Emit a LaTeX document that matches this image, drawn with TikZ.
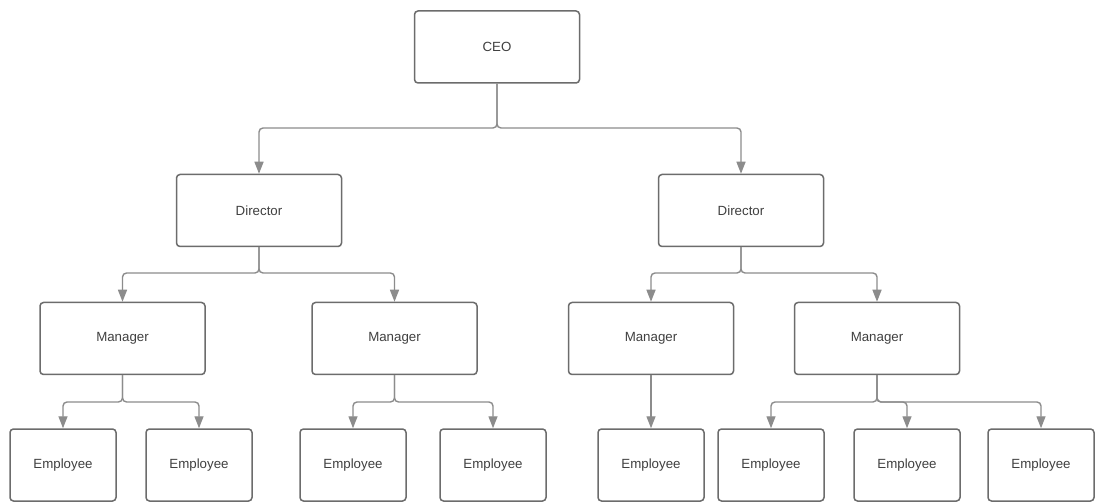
\documentclass[tikz,border=0pt]{standalone}
\usepackage{fontspec}
\setmainfont{Liberation Sans}
\usetikzlibrary{arrows.meta}
\definecolor{boxline}{HTML}{6C6C6C}
\definecolor{conline}{HTML}{8C8C8C}
\definecolor{txt}{HTML}{404040}
\tikzset{
  box/.style={draw=boxline, line width=1.5pt, rounded corners=3.5pt, fill=white,
    text=txt, font=\fontsize{13.3}{15}\selectfont, inner sep=0pt},
  bigbox/.style={box, minimum width=165pt, minimum height=72pt},
  empbox/.style={box, minimum width=106pt, minimum height=72pt},
  conn/.style={draw=conline, line width=1.4pt, rounded corners=4pt,
    -{Triangle[length=12pt,width=9pt]}}
}
\begin{document}
\begin{tikzpicture}[x=1pt,y=-1pt]
\useasboundingbox (0,0) rectangle (1095,502);
\fill[white] (0,0) rectangle (1095,502);
% nodes
\node[bigbox] (ceo) at (497,47) {CEO};
\node[bigbox] (d1) at (259,210.5) {Director};
\node[bigbox] (d2) at (741,210.5) {Director};
\node[bigbox] (m1) at (122.5,338.5) {Manager};
\node[bigbox] (m2) at (394.5,338.5) {Manager};
\node[bigbox] (m3) at (651,338.5) {Manager};
\node[bigbox] (m4) at (877,338.5) {Manager};
\node[empbox] (e1) at (63,465) {Employee};
\node[empbox] (e2) at (199,465) {Employee};
\node[empbox] (e3) at (353,465) {Employee};
\node[empbox] (e4) at (493,465) {Employee};
\node[empbox] (e5) at (651,465) {Employee};
\node[empbox] (e6) at (771,465) {Employee};
\node[empbox] (e7) at (907,465) {Employee};
\node[empbox] (e8) at (1041,465) {Employee};
% bus coordinates
\coordinate (b0) at (497,128);
\coordinate (b1) at (259,273);
\coordinate (b2) at (741,273);
\coordinate (b3) at (122.5,402);
\coordinate (b4) at (394.5,402);
\coordinate (b6) at (877,402);
% connectors
\draw[conn] (ceo.south) -- (b0) -| (d1.north);
\draw[conn] (ceo.south) -- (b0) -| (d2.north);
\draw[conn] (d1.south) -- (b1) -| (m1.north);
\draw[conn] (d1.south) -- (b1) -| (m2.north);
\draw[conn] (d2.south) -- (b2) -| (m3.north);
\draw[conn] (d2.south) -- (b2) -| (m4.north);
\draw[conn] (m1.south) -- (b3) -| (e1.north);
\draw[conn] (m1.south) -- (b3) -| (e2.north);
\draw[conn] (m2.south) -- (b4) -| (e3.north);
\draw[conn] (m2.south) -- (b4) -| (e4.north);
\draw[conn] (m3.south) -- (e5.north);
\draw[conn] (m4.south) -- (b6) -| (e6.north);
\draw[conn] (m4.south) -- (b6) -| (e7.north);
\draw[conn] (m4.south) -- (b6) -| (e8.north);
\end{tikzpicture}
\end{document}
